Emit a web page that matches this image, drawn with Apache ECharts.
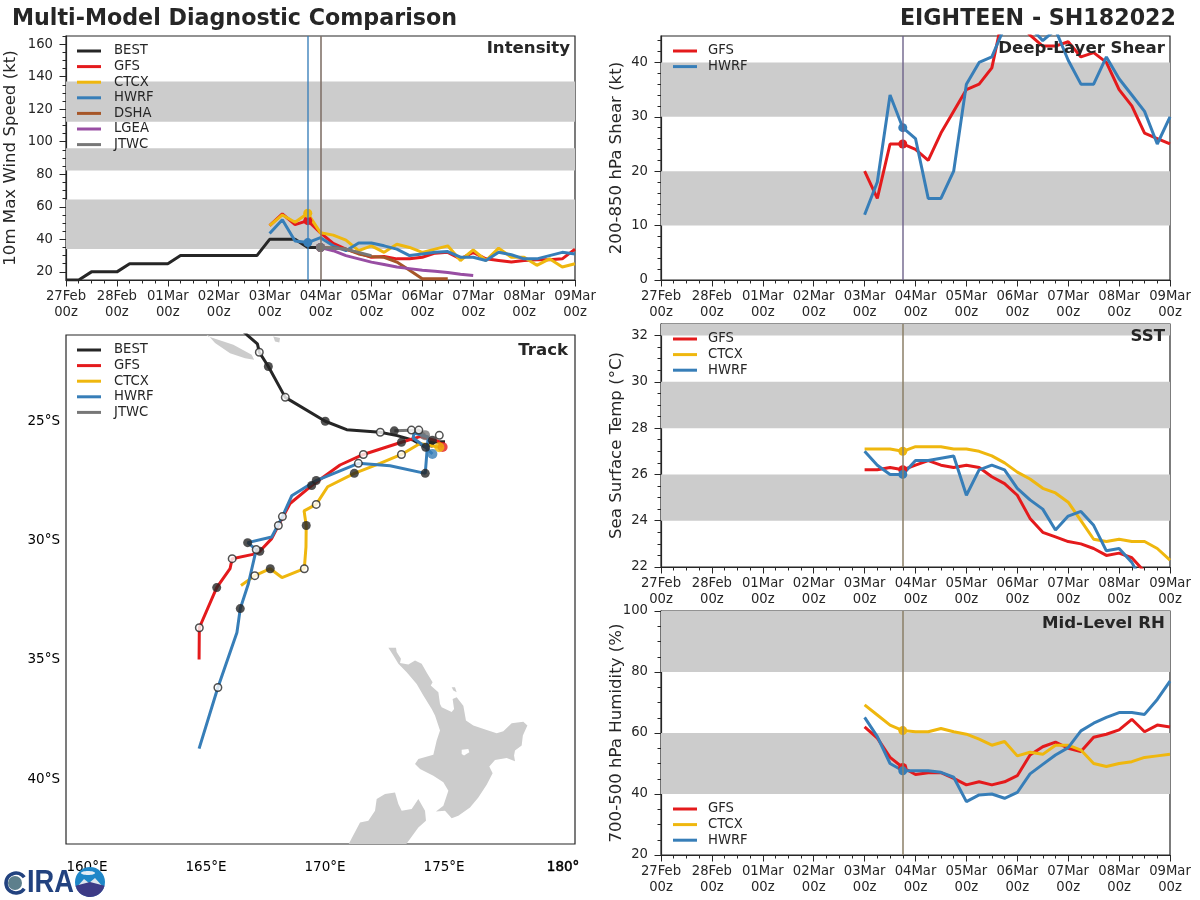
<!DOCTYPE html>
<html>
<head>
<meta charset="utf-8">
<title>Multi-Model Diagnostic Comparison</title>
<script src="https://cdn.jsdelivr.net/npm/echarts@6/dist/echarts.min.js"></script>
<style>
  html, body { margin: 0; padding: 0; background: #fff; }
  #chart { width: 1200px; height: 900px; }
</style>
</head>
<body>
<div id="chart"></div>
<script>
// time axis: hours since 27Feb 00z, values below are 6-hourly
const dateLabels = ['27Feb\n00z', '28Feb\n00z', '01Mar\n00z', '02Mar\n00z', '03Mar\n00z', '04Mar\n00z', '05Mar\n00z', '06Mar\n00z', '07Mar\n00z', '08Mar\n00z', '09Mar\n00z']
const fcstStart = 16 // 03Mar 00z
const nowHour = 114 // 03Mar 18z
const jtwcHour = 120 // 04Mar 00z

// intensity (kt)
const windBest = [15, 15, 20, 20, 20, 25, 25, 25, 25, 30, 30, 30, 30, 30, 30, 30, 40, 40, 40, 35, 35]
const windGfs = [48.4, 55.6, 49, 51.5, 44, 37.5, 34, 31.5, 29, 29.5, 28, 28, 29, 31.5, 32, 28, 32, 28, 27, 26, 27, 27.5, 27.5, 28, 34]
const windCtcx = [48.4, 55, 50.5, 56, 44, 42.6, 39.5, 33, 36, 32, 37, 35, 32, 34, 36, 27, 33.5, 27, 34.6, 29, 29, 24, 28, 23, 25]
const windHwrf = [43.6, 52, 39, 38, 41, 36, 33, 37.7, 37.7, 36, 34, 30, 31, 32, 32.5, 29, 29, 27, 32, 30.5, 28, 28, 30, 32, 31]
const windDsha = [35, 34.6, 34, 31, 29.5, 29, 26, 21, 15.7, 15.7, 15.7]
const windLgea = [35, 33, 30, 28, 26, 24.5, 23, 22, 21, 20.4, 19.6, 18.5, 17.7]
const windJtwc = [35, 34.5, 34, 32, 30]
const windBands = [[34, 64.5], [82.3, 96], [112.3, 137]]

// deep layer shear (kt)
const shearGfs = [20, 15, 25, 25, 24, 22, 27, 31, 35, 36, 39, 50, 48, 45, 43, 43, 43.8, 41, 41.8, 40, 35, 32, 27, 26, 25]
const shearHwrf = [12, 18, 34, 28, 26, 15, 15, 20, 36, 40, 41, 46.5, 48, 46.5, 44, 46, 40.4, 36, 36, 41, 37, 34, 31, 25, 30]
const shearBands = [[10, 20], [30, 40]]

// sea surface temperature (C)
const sstGfs = [26.2, 26.2, 26.3, 26.2, 26.4, 26.6, 26.4, 26.3, 26.4, 26.3, 25.9, 25.6, 25.1, 24.1, 23.5, 23.3, 23.1, 23, 22.8, 22.5, 22.6, 22.4, 21.8]
const sstCtcx = [27.1, 27.1, 27.1, 27, 27.2, 27.2, 27.2, 27.1, 27.1, 27, 26.8, 26.5, 26.1, 25.8, 25.4, 25.2, 24.8, 24, 23.2, 23.1, 23.2, 23.1, 23.1, 22.8, 22.3]
const sstHwrf = [27, 26.4, 26, 26, 26.6, 26.6, 26.7, 26.8, 25.1, 26.2, 26.4, 26.2, 25.4, 24.9, 24.5, 23.6, 24.2, 24.4, 23.8, 22.7, 22.8, 22.2, 21.2]
const sstBands = [[24, 26], [28, 30], [32, 32.5]]

// mid level humidity (%)
const rhGfs = [62, 58.3, 52, 48.7, 46.4, 47, 47, 45.1, 43, 44, 43, 44, 46, 52.8, 55.5, 57, 55, 53.9, 58.6, 59.6, 61, 64.5, 60.4, 62.6, 62]
const rhCtcx = [69.2, 65.9, 62.6, 60.8, 60.4, 60.4, 61.5, 60.4, 59.6, 58, 56, 57.2, 52.5, 53.7, 53, 56, 56, 54.4, 50, 49, 50, 50.6, 52, 52.5, 53]
const rhHwrf = [65.1, 58.8, 50, 47.6, 47.6, 47.6, 47.1, 45.5, 37.5, 39.7, 40, 38.6, 40.5, 46.6, 49.7, 52.8, 55.2, 60.7, 63.2, 65.1, 66.7, 66.7, 66.1, 71, 77]
const rhBands = [[40, 60], [80, 100]]

// tracks as [lon, lat]
const trackBest = [[166.55, -21.23], [166.72, -21.39], [167.16, -21.77], [167.24, -22.12], [167.62, -22.72], [168.33, -24.01], [170.01, -25.01], [170.91, -25.36], [172.32, -25.47], [173.03, -25.61], [173.7, -25.8], [174.23, -26.1], [174.51, -25.8], [174.45, -26.09], [174.58, -25.88], [175.04, -25.87]]
const trackGfs = [[174.94, -26.09], [174.75, -25.84], [173.99, -25.65], [173.21, -25.89], [171.61, -26.4], [170.63, -26.84], [169.44, -27.7], [168.53, -28.45], [168.04, -29.37], [167.76, -29.92], [167.26, -30.45], [166.97, -30.58], [166.1, -30.76], [166.01, -31.18], [165.45, -31.97], [164.72, -33.65], [164.71, -34.98]]
const trackCtcx = [[174.8, -26.1], [173.99, -25.94], [173.21, -26.4], [172.31, -26.77], [171.23, -27.19], [170.11, -27.75], [169.63, -28.49], [169.12, -28.76], [169.21, -29.37], [169.2, -30.27], [169.13, -31.18], [168.19, -31.55], [167.7, -31.18], [167.05, -31.47], [166.47, -31.88]]
const trackHwrf = [[174.51, -26.38], [174.23, -26.1], [173.7, -25.71], [173.74, -25.5], [174.33, -25.67], [174.21, -27.19], [172.73, -26.87], [171.4, -26.77], [169.63, -27.49], [168.6, -28.13], [168.21, -29], [167.76, -29.85], [166.75, -30.09], [167.11, -30.38], [166.78, -31.81], [166.44, -32.85], [166.3, -33.85], [165.5, -36.15], [164.71, -38.71]]
const trackJtwc = [[174.2, -25.59], [173.94, -25.38], [172.91, -25.41]]

const trackFilled = [[166.72, -21.39], [167.62, -22.72], [170.01, -25.01], [174.23, -26.1], [174.51, -25.8], [173.21, -25.89], [169.44, -27.7], [167.26, -30.45], [165.45, -31.97], [171.23, -27.19], [169.21, -29.37], [167.7, -31.18], [174.21, -27.19], [169.63, -27.49], [166.75, -30.09], [166.44, -32.85], [172.91, -25.41]]
const trackOpen = [[167.24, -22.12], [168.33, -24.01], [172.32, -25.47], [173.63, -25.38], [173.94, -25.38], [174.8, -25.6], [171.61, -26.4], [168.04, -29.37], [166.1, -30.76], [164.72, -33.65], [173.21, -26.4], [169.63, -28.49], [169.13, -31.18], [167.05, -31.47], [171.4, -26.77], [168.21, -29], [167.11, -30.38], [165.5, -36.15]]

// land outlines
const northIsland = [[172.66, -34.49], [172.98, -34.49], [173.01, -34.67], [173.19, -34.95], [173.15, -35.13], [173.5, -35.19], [173.78, -35.02], [174.06, -35.16], [174.3, -35.58], [174.52, -35.93], [174.44, -36.07], [174.76, -36.35], [174.83, -36.84], [174.9, -36.98], [175.32, -37.18], [175.42, -37.05], [175.36, -36.63], [175.53, -36.56], [175.81, -36.91], [175.92, -37.53], [176.23, -37.74], [176.79, -37.93], [177.21, -38.07], [177.49, -37.98], [177.84, -37.65], [178.33, -37.58], [178.5, -37.74], [178.31, -38.16], [178.26, -38.58], [177.98, -38.79], [177.94, -39], [177.98, -39.24], [177.63, -39.1], [177.14, -39.18], [176.9, -39.46], [177.04, -39.74], [176.79, -40.22], [176.44, -40.75], [176.09, -41.17], [175.6, -41.52], [175.32, -41.62], [175.04, -41.31], [174.66, -41.34], [174.97, -41.1], [175.18, -40.47], [174.97, -40.12], [174.55, -39.84], [173.99, -39.56], [173.78, -39.35], [173.92, -39.14], [174.55, -38.96], [174.69, -38.37], [174.83, -37.95], [174.62, -37.32], [174.48, -37.05], [174.13, -36.49], [173.85, -36], [173.43, -35.51], [173.08, -35.16], [172.87, -34.81]]
const southIsland = [[170.84, -42.99], [171.47, -41.8], [171.82, -41.73], [172.1, -41.31], [172.17, -40.82], [172.52, -40.61], [172.94, -40.54], [173.08, -41.03], [173.22, -41.31], [173.64, -41.24], [173.92, -40.82], [174.2, -41.31], [174.24, -41.73], [173.92, -42.01], [173.43, -42.68], [173.22, -42.99]]
const greatBarrier = [[175.32, -36.14], [175.46, -36.14], [175.53, -36.35], [175.39, -36.28]]
const newCaledonia = [[164.75, -21.18], [165.1, -21.46], [166.15, -21.81], [166.92, -22.23], [167.02, -22.44], [166.64, -22.37], [166.01, -22.16], [165.38, -21.74], [164.89, -21.18]]
const loyalty = [[167.8, -21.39], [167.83, -21.46], [168.11, -21.53], [168.08, -21.71], [167.9, -21.67]]
const lakeTaupo = [[175.74, -38.76], [176.02, -38.72], [176.06, -38.86], [175.84, -39], [175.74, -38.93]]

const lonTicks = [160, 165, 170, 175, 180]
const lonLabels = ['160°E', '165°E', '170°E', '175°E', '{heavy|180°}']
const latTicks = [-25, -30, -35, -40]
const latLabels = ['25°S', '30°S', '35°S', '40°S']

const COLORS = { BEST: '#262626', GFS: '#e41a1c', CTCX: '#efb70e', HWRF: '#377eb8', DSHA: '#a65628', LGEA: '#984ea3', JTWC: '#777777' }
const INK = '#262626'
const FONT = '"DejaVu Sans", sans-serif'
const BAND = '#cccccc'
const TICK_FONT = 13.2

const panels = [
  { left: 66, top: 36, width: 509, height: 244 },
  { left: 661, top: 36, width: 509, height: 244 },
  { left: 661, top: 324, width: 509, height: 243 },
  { left: 661, top: 611, width: 509, height: 244 },
  { left: 66, top: 335, width: 509, height: 509 }
]

const range = (from, to, step) => {
  const out = []
  for (let v = from; v <= to + 1e-9; v += step) out.push(+v.toFixed(3))
  return out
}

const grid = panels.map(p => ({ ...p, show: true, borderColor: INK, borderWidth: 1.2, backgroundColor: 'transparent' }))

const timeXAxis = gridIndex => ({
  type: 'value', gridIndex, min: 0, max: 240, interval: 24,
  splitLine: { show: false },
  axisLine: { lineStyle: { color: INK, width: 1.2 } },
  axisTick: { length: 6.5, lineStyle: { color: INK } },
  minorTick: { show: true, splitNumber: 4, length: 3.5, lineStyle: { color: INK } },
  minorSplitLine: { show: false },
  axisLabel: {
    color: INK, fontFamily: FONT, fontSize: TICK_FONT, lineHeight: 16, margin: 9, hideOverlap: false,
    formatter: v => dateLabels[v / 24]
  }
})

// each panel gets a labelled y axis and a second one carrying just the minor ticks
const yAxes = (gridIndex, min, max, major, minor, name, nameGap) => [
  {
    type: 'value', gridIndex, min, max, name, nameLocation: 'middle', nameGap, nameMoveOverlap: false,
    nameTextStyle: { color: INK, fontFamily: FONT, fontSize: 16.6 },
    splitLine: { show: false },
    axisLine: { lineStyle: { color: INK, width: 1.2 } },
    axisTick: { length: 6.5, customValues: major, lineStyle: { color: INK } },
    axisLabel: { color: INK, fontFamily: FONT, fontSize: TICK_FONT, margin: 13, customValues: major }
  },
  {
    type: 'value', gridIndex, min, max, position: 'left',
    splitLine: { show: false },
    axisLine: { show: false },
    axisTick: { length: 3.5, customValues: minor, lineStyle: { color: INK } },
    axisLabel: { show: false }
  }
]

const bandSeries = (gridIndex, bands) => ({
  type: 'line', name: 'bands' + gridIndex, xAxisIndex: gridIndex, yAxisIndex: gridIndex * 2, z: 0,
  silent: true, data: [], symbol: 'none',
  markArea: { silent: true, itemStyle: { color: BAND }, data: bands.map(b => [{ yAxis: b[0] }, { yAxis: b[1] }]) }
})

// values are 6-hourly from startIdx; dotHour puts a dot on the line, lineAlpha a vertical marker there
const modelLine = (name, gridIndex, startIdx, values, dotHour, lineAlpha) => ({
  type: 'line', name, xAxisIndex: gridIndex, yAxisIndex: gridIndex * 2, z: 3,
  data: values.map((v, i) => [(startIdx + i) * 6, v]),
  lineStyle: { color: COLORS[name], width: 3 },
  itemStyle: { color: COLORS[name] },
  symbol: 'circle',
  symbolSize: val => (val[0] === dotHour ? 9 : 0),
  silent: true,
  markLine: lineAlpha === undefined ? undefined : {
    silent: true, symbol: 'none', label: { show: false }, animation: false,
    lineStyle: { color: COLORS[name], width: 1.6, type: 'solid', opacity: lineAlpha },
    data: [{ xAxis: dotHour }]
  }
})

const panelLegend = (names, left, top, textGap) => ({
  data: names, left, top, orient: 'vertical', icon: 'rect', itemWidth: 24, itemHeight: 3, itemGap: 1.6,
  selectedMode: false, padding: 0,
  textStyle: { color: INK, fontFamily: FONT, fontSize: TICK_FONT, padding: [0, 0, 0, textGap], lineHeight: 14 }
})

const panelTitle = (text, right, top) => ({
  text, right, top, padding: 0,
  textStyle: { color: INK, fontFamily: FONT, fontSize: 16.6, fontWeight: 'bold' }
})

const trackLine = (name, data) => ({
  type: 'line', name, xAxisIndex: 4, yAxisIndex: 8, z: 3, data, silent: true,
  symbol: 'none', lineStyle: { color: COLORS[name], width: 3 }
})

const trackStart = (name, point, z) => ({
  type: 'scatter', name, xAxisIndex: 4, yAxisIndex: 8, z, data: [point], silent: true,
  symbol: 'circle', symbolSize: 10, itemStyle: { color: COLORS[name] }
})

const landPolys = [northIsland, southIsland, greatBarrier, newCaledonia, loyalty]

const option = {
  animation: false,
  textStyle: { fontFamily: FONT },
  title: [
    { text: 'Multi-Model Diagnostic Comparison', left: 12, top: 8, padding: 0, textStyle: { color: INK, fontFamily: FONT, fontSize: 22.2, fontWeight: 'bold' } },
    { text: 'EIGHTEEN - SH182022', right: 24, top: 8, padding: 0, textStyle: { color: INK, fontFamily: FONT, fontSize: 22.2, fontWeight: 'bold' } },
    panelTitle('Intensity', 630, 40),
    panelTitle('Deep-Layer Shear', 35, 40),
    panelTitle('SST', 35, 328),
    panelTitle('Mid-Level RH', 35, 615),
    panelTitle('Track', 632, 342)
  ],
  legend: [
    panelLegend(['BEST', 'GFS', 'CTCX', 'HWRF', 'DSHA', 'LGEA', 'JTWC'], 77, 44, 8),
    panelLegend(['GFS', 'HWRF'], 673, 44, 6),
    panelLegend(['GFS', 'CTCX', 'HWRF'], 673, 332, 6),
    panelLegend(['GFS', 'CTCX', 'HWRF'], 673, 802, 6),
    panelLegend(['BEST', 'GFS', 'CTCX', 'HWRF', 'JTWC'], 77, 343, 8)
  ],
  grid,
  xAxis: [
    timeXAxis(0), timeXAxis(1), timeXAxis(2), timeXAxis(3),
    {
      type: 'value', gridIndex: 4, min: 159.12, max: 180.5,
      splitLine: { show: false }, axisLine: { show: false }, axisTick: { show: false },
      axisLabel: {
        color: '#000', fontFamily: FONT, fontSize: 13.5, margin: 16, customValues: lonTicks,
        formatter: v => lonLabels[lonTicks.indexOf(v)],
        // this label is printed twice in the original, so it looks heavier
        rich: { heavy: { color: '#000', fontFamily: FONT, fontSize: 13.5, textBorderColor: '#000', textBorderWidth: 0.5 } }
      }
    }
  ],
  yAxis: [
    ...yAxes(0, 15, 165, range(20, 160, 20), range(20, 165, 5), '10m Max Wind Speed (kt)', 47),
    ...yAxes(1, 0, 44.85, range(0, 40, 10), range(2, 44, 2), '200-850 hPa Shear (kt)', 36),
    ...yAxes(2, 22, 32.5, range(22, 32, 2), range(22.5, 32, 0.5), 'Sea Surface Temp (°C)', 36),
    ...yAxes(3, 20, 100, range(20, 100, 20), range(25, 95, 5), '700-500 hPa Humidity (%)', 36),
    {
      type: 'value', gridIndex: 4, min: -42.7, max: -21.4,
      splitLine: { show: false }, axisLine: { show: false }, axisTick: { show: false },
      axisLabel: { color: '#000', fontFamily: FONT, fontSize: 13.5, margin: 6, customValues: latTicks, formatter: v => latLabels[latTicks.indexOf(v)] }
    }
  ],
  series: [
    bandSeries(0, windBands),
    modelLine('BEST', 0, 0, windBest),
    modelLine('GFS', 0, fcstStart, windGfs, nowHour),
    modelLine('CTCX', 0, fcstStart, windCtcx, nowHour),
    modelLine('HWRF', 0, fcstStart, windHwrf, nowHour, 0.85),
    modelLine('DSHA', 0, fcstStart + 4, windDsha, jtwcHour, 0.5),
    modelLine('LGEA', 0, fcstStart + 4, windLgea, jtwcHour),
    modelLine('JTWC', 0, fcstStart + 4, windJtwc, jtwcHour, 0.8),

    bandSeries(1, shearBands),
    modelLine('GFS', 1, fcstStart, shearGfs, nowHour, 0.5),
    modelLine('HWRF', 1, fcstStart, shearHwrf, nowHour, 0.6),

    bandSeries(2, sstBands),
    modelLine('GFS', 2, fcstStart, sstGfs, nowHour, 0.4),
    modelLine('CTCX', 2, fcstStart, sstCtcx, nowHour, 0.5),
    modelLine('HWRF', 2, fcstStart, sstHwrf, nowHour, 0.5),

    bandSeries(3, rhBands),
    modelLine('GFS', 3, fcstStart, rhGfs, nowHour, 0.4),
    modelLine('CTCX', 3, fcstStart, rhCtcx, nowHour, 0.5),
    modelLine('HWRF', 3, fcstStart, rhHwrf, nowHour, 0.5),

    {
      type: 'custom', name: 'land', xAxisIndex: 4, yAxisIndex: 8, z: 1, silent: true, clip: true,
      data: landPolys.map((p, i) => [i]),
      renderItem: (params, api) => ({
        type: 'polygon',
        shape: { points: landPolys[params.dataIndex].map(p => api.coord(p)) },
        style: { fill: BAND }
      })
    },
    {
      type: 'custom', name: 'lake', xAxisIndex: 4, yAxisIndex: 8, z: 2, silent: true,
      data: [[0]],
      renderItem: (params, api) => ({
        type: 'polygon',
        shape: { points: lakeTaupo.map(p => api.coord(p)) },
        style: { fill: '#fff' }
      })
    },
    trackLine('JTWC', trackJtwc),
    trackLine('BEST', trackBest),
    trackLine('GFS', trackGfs),
    trackLine('CTCX', trackCtcx),
    trackLine('HWRF', trackHwrf),
    trackStart('GFS', trackGfs[0], 4),
    trackStart('CTCX', trackCtcx[0], 5),
    trackStart('HWRF', trackHwrf[0], 5),
    trackStart('JTWC', trackJtwc[0], 5),
    {
      type: 'scatter', name: 'marks', xAxisIndex: 4, yAxisIndex: 8, z: 6, silent: true, data: trackFilled,
      symbol: 'circle', symbolSize: 9, itemStyle: { color: INK }
    },
    {
      type: 'scatter', name: 'marksOpen', xAxisIndex: 4, yAxisIndex: 8, z: 6, silent: true, data: trackOpen,
      symbol: 'circle', symbolSize: 7.5, itemStyle: { color: '#fff', borderColor: INK, borderWidth: 1.5 }
    }
  ],
  // CIRA logo, rough drawing
  graphic: [
    { type: 'arc', z: 10, shape: { cx: 16, cy: 883, r: 10, startAngle: 0.6, endAngle: Math.PI * 2 - 0.6 }, style: { fill: 'none', stroke: '#22427f', lineWidth: 3.5 } },
    { type: 'circle', z: 10, shape: { cx: 15, cy: 883, r: 7 }, style: { fill: '#5d7f8c' } },
    {
      type: 'text', z: 10, x: 27, y: 868, scaleX: 0.88,
      style: { x: 0, y: 0, text: 'IRA', fill: '#22427f', font: 'bold 31px "Liberation Sans", sans-serif' }
    },
    { type: 'circle', z: 10, shape: { cx: 90, cy: 882, r: 15 }, style: { fill: '#1f87c8' } },
    { type: 'ellipse', z: 11, shape: { cx: 88, cy: 873, rx: 7, ry: 2 }, style: { fill: '#e6eef5' } },
    { type: 'polygon', z: 11, shape: { points: [[76, 888], [84, 879], [89, 883], [95, 878], [104, 888]] }, style: { fill: '#dfe6ee' } },
    { type: 'sector', z: 11, shape: { cx: 90, cy: 882, r: 15, startAngle: 0.25, endAngle: Math.PI - 0.25 }, style: { fill: '#3d3b86' } }
  ]
}

const chart = echarts.init(document.getElementById('chart'), undefined, { renderer: 'canvas' })
chart.setOption(option)
</script>
</body>
</html>
